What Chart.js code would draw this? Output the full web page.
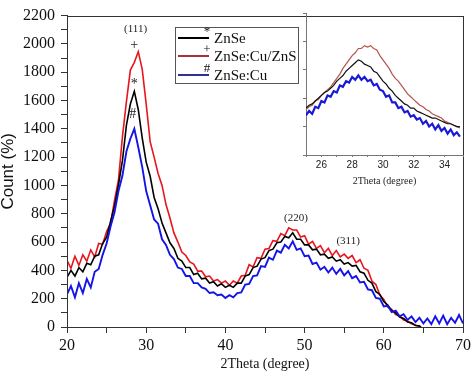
<!DOCTYPE html>
<html>
<head>
<meta charset="utf-8">
<script src="https://cdn.jsdelivr.net/npm/chart.js@4.4.0/dist/chart.umd.min.js"></script>
<style>
    html, body { margin: 0; padding: 0; background: #fff; }
    #wrap { position: relative; width: 474px; height: 373px; }
    #main { position: absolute; left: 0; top: 0; }
    #inset { position: absolute; left: 280px; top: 8px; }
</style>
</head>
<body>
<div id="wrap">
    <canvas id="main" width="474" height="373"></canvas>
    <canvas id="inset" width="190" height="184"></canvas>
</div>
<script>
// main pattern, 2theta in degrees
const twoTheta = [
    20, 20.5, 21, 21.5, 22, 22.5, 23, 23.5, 24, 24.5,
    25, 25.5, 26, 26.5, 27, 27.5, 28, 28.5, 29, 29.5,
    30, 30.5, 31, 31.5, 32, 32.5, 33, 33.5, 34, 34.5,
    35, 35.5, 36, 36.5, 37, 37.5, 38, 38.5, 39, 39.5,
    40, 40.5, 41, 41.5, 42, 42.5, 43, 43.5, 44, 44.5,
    45, 45.5, 46, 46.5, 47, 47.5, 48, 48.5, 49, 49.5,
    50, 50.5, 51, 51.5, 52, 52.5, 53, 53.5, 54, 54.5,
    55, 55.5, 56, 56.5, 57, 57.5, 58, 58.5, 59, 59.5,
    60, 60.5, 61, 61.5, 62, 62.5, 63, 63.5, 64, 64.5,
    65, 65.5, 66, 66.5, 67, 67.5, 68, 68.5, 69, 69.5,
    70,
];

const znseCuZns = [
    470, 415, 500, 435, 510, 465, 545, 495, 590, 585,
    675, 730, 895, 1040, 1345, 1590, 1815, 1870, 1945, 1820,
    1575, 1310, 1200, 1085, 1000, 865, 770, 665, 600, 530,
    505, 460, 445, 395, 395, 355, 360, 325, 335, 310,
    325, 295, 325, 310, 360, 365, 440, 425, 490, 485,
    550, 555, 610, 605, 660, 645, 700, 685, 685, 635,
    645, 585, 605, 555, 575, 525, 555, 505, 540, 495,
    515, 485, 505, 455, 475, 415, 400, 325, 300, 225,
    195, 140, 125, 88, 78, 50, 42, 22, 14, 4,
    -20, -30, -30, -30, -30, -30, -30, -30, -30, -30,
    -30,
];

const znse = [
    350, 400, 360, 420, 390, 450, 440, 500, 510, 590,
    635, 745, 855, 1005, 1175, 1425, 1575, 1665, 1535, 1335,
    1165, 1065, 915, 835, 735, 665, 595, 555, 485, 465,
    420, 420, 370, 380, 340, 345, 310, 320, 290, 305,
    280, 295, 280, 310, 310, 360, 370, 420, 430, 480,
    490, 540, 550, 595, 600, 640, 630, 665, 620, 620,
    580, 580, 545, 550, 510, 515, 485, 495, 465, 475,
    445, 455, 430, 435, 390, 380, 330, 310, 250, 230,
    180, 155, 115, 100, 70, 60, 35, 30, 10, 8,
    -20, -30, -30, -30, -30, -30, -30, -30, -30, -30,
    -30,
];

const znseCu = [
    230, 290, 210, 310, 240, 340, 280, 390, 410, 510,
    590, 710, 810, 960, 1070, 1240, 1330, 1400, 1270, 1130,
    960, 860, 760, 730, 620, 580, 510, 480, 420, 410,
    360, 360, 310, 310, 280, 270, 240, 245, 225, 230,
    205, 225, 210, 240, 245, 300, 305, 360, 365, 430,
    425, 490, 475, 540, 525, 580, 555, 605, 545, 555,
    500, 505, 445, 455, 405, 425, 385, 420, 375, 410,
    365, 395, 345, 360, 315, 320, 265, 260, 205, 200,
    145, 150, 105, 115, 75, 90, 50, 75, 35, 65,
    25, 60, 20, 75, 25, 80, 20, 65, 30, 85,
    25,
];

// inset, zoom on the (111) peak (arbitrary units)
const insetTheta = [
    25, 25.2, 25.4, 25.6, 25.8, 26, 26.2, 26.4, 26.6, 26.8,
    27, 27.2, 27.4, 27.6, 27.8, 28, 28.2, 28.4, 28.6, 28.8,
    29, 29.2, 29.4, 29.6, 29.8, 30, 30.2, 30.4, 30.6, 30.8,
    31, 31.2, 31.4, 31.6, 31.8, 32, 32.2, 32.4, 32.6, 32.8,
    33, 33.2, 33.4, 33.6, 33.8, 34, 34.2, 34.4, 34.6, 34.8,
    35,
];

const insetZnseCuZns = [
    32, 34, 35, 38, 39, 42, 44, 46, 48, 51,
    54, 57, 61, 64, 67, 70, 72, 75, 75, 77,
    76, 77, 75, 74, 70, 67, 64, 61, 57, 54,
    52, 49, 46, 43, 41, 39, 37, 35, 34, 32,
    31, 29, 28, 27, 26, 24, 23, 22, 21, 20,
    19,
];

const insetZnse = [
    33, 35, 36, 38, 40, 42, 44, 45, 47, 49,
    52, 54, 56, 59, 61, 63, 65, 67, 66, 64,
    63, 62, 59, 58, 55, 52, 50, 47, 45, 42,
    40, 38, 36, 35, 33, 33, 31, 30, 29, 28,
    27, 26, 26, 25, 24, 23, 22, 22, 21, 20,
    20,
];

const insetZnseCu = [
    28, 31, 29, 34, 33, 38, 37, 42, 41, 45,
    44, 49, 48, 52, 51, 55, 53, 56, 53, 55,
    52, 53, 49, 50, 46, 45, 41, 42, 37, 37,
    33, 34, 30, 31, 27, 28, 25, 26, 22, 24,
    20, 22, 18, 21, 17, 19, 15, 18, 14, 16,
    13,
];

const countLabels = [0, 200, 400, 600, 800, 1000, 1200, 1400, 1600, 1800, 2000, 2200];
const thetaLabels = [20, 30, 40, 50, 60, 70];
const insetThetaLabels = [26, 28, 30, 32, 34];

const peakNames = ["(111)", "(220)", "(311)"];
const peakX = [28.66, 48.9, 55.5];
const peakY = [2103, 770, 605];

const seriesNames = ["ZnSe", "ZnSe:Cu/ZnS", "ZnSe:Cu"];
const seriesMarks = ["*", "+", "#"];
const markX = [28.5, 28.5, 28.3];
const markY = [1712, 1993, 1506];

const SERIF = "'Liberation Serif', 'Times New Roman', serif";
const SANS = "'Liberation Sans', Arial, sans-serif";

function points(xs, ys) {
    return xs.map((x, i) => ({ x, y: ys[i] }));
}

const framePlugin = {
    id: "frame",
    afterDraw(chart) {
        const { ctx, chartArea: a } = chart;
        ctx.save();
        ctx.strokeStyle = "#333";
        ctx.lineWidth = 1;
        ctx.strokeRect(Math.round(a.left) + 0.5, Math.round(a.top) + 0.5,
            Math.round(a.right - a.left), Math.round(a.bottom - a.top));
        ctx.restore();
    },
};

const notesPlugin = {
    id: "notes",
    afterDraw(chart) {
        const { ctx } = chart;
        const xs = chart.scales.x;
        const ys = chart.scales.y;
        ctx.save();
        ctx.fillStyle = "#222";
        ctx.textAlign = "center";
        ctx.textBaseline = "middle";
        ctx.font = `11px ${SERIF}`;
        peakNames.forEach((t, i) => {
            ctx.fillText(t, xs.getPixelForValue(peakX[i]), ys.getPixelForValue(peakY[i]));
        });
        ctx.font = `14px ${SERIF}`;
        seriesMarks.forEach((m, i) => {
            ctx.fillText(m, xs.getPixelForValue(markX[i]), ys.getPixelForValue(markY[i]));
        });

        // legend box
        const lineColors = ["#000", "#a8303a", "#303090"];
        ctx.fillStyle = "#fff";
        ctx.fillRect(175, 27, 123, 56);
        ctx.strokeStyle = "#555";
        ctx.lineWidth = 1;
        ctx.strokeRect(175.5, 27.5, 123, 56);
        const rowY = [38, 56, 75];
        seriesNames.forEach((name, i) => {
            ctx.strokeStyle = lineColors[i];
            ctx.lineWidth = 2;
            ctx.beginPath();
            ctx.moveTo(178, rowY[i]);
            ctx.lineTo(209, rowY[i]);
            ctx.stroke();
            ctx.fillStyle = "#111";
            ctx.font = `13px ${SERIF}`;
            ctx.textAlign = "center";
            ctx.fillText(seriesMarks[i], 207, rowY[i] - 6);
            ctx.font = `15px ${SERIF}`;
            ctx.textAlign = "left";
            ctx.fillText(name, 214, rowY[i] + 1);
        });
        ctx.restore();
    },
};

const mainChart = new Chart(document.getElementById("main"), {
    type: "line",
    data: {
        datasets: [
            { label: seriesNames[2], data: points(twoTheta, znseCu), borderColor: "#1414e6", borderWidth: 1.9, order: 0 },
            { label: seriesNames[0], data: points(twoTheta, znse), borderColor: "#000000", order: 1 },
            { label: seriesNames[1], data: points(twoTheta, znseCuZns), borderColor: "#e8141e", order: 2 },
        ],
    },
    options: {
        responsive: false,
        animation: false,
        devicePixelRatio: 1,
        layout: { padding: { top: 7, right: 9, left: 0, bottom: 0 } },
        elements: {
            point: { radius: 0 },
            line: { borderWidth: 1.6, tension: 0 },
        },
        plugins: { legend: { display: false }, tooltip: { enabled: false } },
        scales: {
            x: {
                type: "linear",
                min: 20,
                max: 70,
                afterFit: (s) => { s.height = 46; },
                grid: { drawOnChartArea: false, tickLength: 6, tickColor: "#333" },
                border: { color: "#333" },
                ticks: {
                    stepSize: 5,
                    autoSkip: false,
                    maxRotation: 0,
                    padding: 3,
                    color: "#111",
                    font: { family: SERIF, size: 16 },
                    callback: (v) => (thetaLabels.includes(v) ? String(v) : ""),
                },
                title: {
                    display: true,
                    text: "2Theta (degree)",
                    color: "#111",
                    font: { family: SERIF, size: 14 },
                    padding: { top: 0, bottom: 0 },
                },
            },
            y: {
                min: 0,
                max: 2200,
                afterFit: (s) => { s.width = 67; },
                grid: { drawOnChartArea: false, tickLength: 6, tickColor: "#333" },
                border: { color: "#333" },
                ticks: {
                    stepSize: 100,
                    autoSkip: false,
                    padding: 6,
                    color: "#111",
                    font: { family: SERIF, size: 16 },
                    callback: (v) => (countLabels.includes(v) ? String(v) : ""),
                },
                title: {
                    display: true,
                    text: "Count (%)",
                    color: "#111",
                    font: { family: SANS, size: 17, lineHeight: 1 },
                    padding: { top: 0, bottom: 0 },
                },
            },
        },
    },
    plugins: [framePlugin, notesPlugin],
});

const insetChart = new Chart(document.getElementById("inset"), {
    type: "line",
    data: {
        datasets: [
            { label: seriesNames[2], data: points(insetTheta, insetZnseCu), borderColor: "#1a1ad6", borderWidth: 2.2, order: 0 },
            { label: seriesNames[0], data: points(insetTheta, insetZnse), borderColor: "#111", borderWidth: 1.2, order: 1 },
            { label: seriesNames[1], data: points(insetTheta, insetZnseCuZns), borderColor: "#b4554f", borderWidth: 1.2, order: 2 },
        ],
    },
    options: {
        responsive: false,
        animation: false,
        devicePixelRatio: 1,
        layout: { padding: { top: 5, right: 7, left: 0, bottom: 0 } },
        elements: { point: { radius: 0 }, line: { tension: 0 } },
        plugins: { legend: { display: false }, tooltip: { enabled: false } },
        scales: {
            x: {
                type: "linear",
                min: 25,
                max: 35.2,
                afterFit: (s) => { s.height = 37; },
                grid: { drawOnChartArea: false, tickLength: 2, tickColor: "#777" },
                border: { color: "#777" },
                ticks: {
                    stepSize: 1,
                    autoSkip: false,
                    maxRotation: 0,
                    padding: 2,
                    color: "#222",
                    font: { family: SANS, size: 10 },
                    callback: (v) => (insetThetaLabels.includes(v) ? String(v) : ""),
                },
                title: {
                    display: true,
                    text: "2Theta (degree)",
                    color: "#222",
                    font: { family: SERIF, size: 10 },
                    padding: { top: 0, bottom: 5 },
                },
            },
            y: {
                min: 0,
                max: 100,
                afterFit: (s) => { s.width = 26; },
                grid: { drawOnChartArea: false, tickLength: 3, tickColor: "#777" },
                border: { color: "#777" },
                ticks: { stepSize: 20, display: false },
            },
        },
    },
});
</script>
</body>
</html>
